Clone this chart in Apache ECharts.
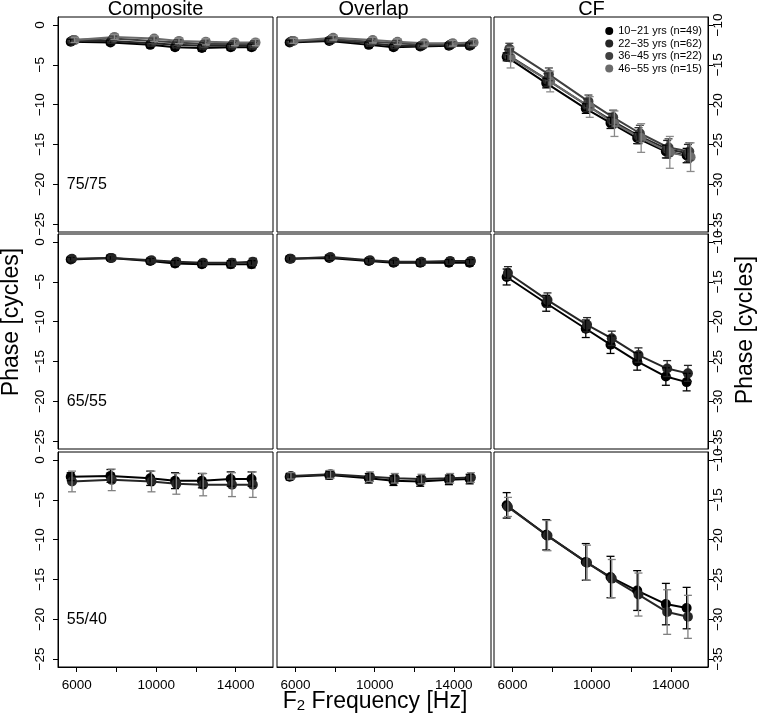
<!DOCTYPE html>
<html>
<head>
<meta charset="utf-8">
<script src="https://cdn.jsdelivr.net/npm/echarts@6/dist/echarts.min.js"></script>
<style>html,body{margin:0;padding:0;background:#fff}#c{width:763px;height:719px}</style>
</head>
<body>
<div id="c"></div>
<script>
// ---------- data ----------
const freqs = [5800, 7800, 9800, 11050, 12400, 13850, 14900];
const groupNames = ['10\u221221 yrs (n=49)', '22\u221235 yrs (n=62)', '36\u221245 yrs (n=22)', '46\u221255 yrs (n=15)'];
const groupOffsets = [-100, -35, 35, 100];
const columnTitles = ['Composite', 'Overlap', 'CF'];
const levelLabels = ['75/75', '65/55', '55/40'];
const xTicks = [6000, 8000, 10000, 12000, 14000];
const xTickLabels = [6000, 10000, 14000];
const yTicksLeft = [0, -5, -10, -15, -20, -25];
const yTicksRight = [-10, -15, -20, -25, -30, -35];

// 75/75
const comp75_g1 = [-2.1, -2.2, -2.5, -2.8, -2.9, -2.8, -2.8];
const comp75_g2 = [-2.0, -2.0, -2.3, -2.5, -2.6, -2.6, -2.6];
const comp75_g3 = [-1.9, -1.7, -2.0, -2.2, -2.4, -2.4, -2.4];
const comp75_g4 = [-1.9, -1.5, -1.7, -2.0, -2.1, -2.2, -2.2];
const comp75_sd = [0.3, 0.3, 0.35, 0.35, 0.4, 0.4, 0.4];
const ov75_g1 = [-2.2, -2.0, -2.5, -2.8, -2.7, -2.6, -2.6];
const ov75_g2 = [-2.1, -1.9, -2.3, -2.6, -2.6, -2.5, -2.5];
const ov75_g3 = [-2.0, -1.8, -2.1, -2.3, -2.5, -2.4, -2.3];
const ov75_g4 = [-2.0, -1.6, -1.9, -2.1, -2.3, -2.3, -2.2];
const ov75_sd = [0.3, 0.3, 0.35, 0.35, 0.35, 0.35, 0.35];
const cf75_g1 = [-14.0, -17.3, -20.5, -22.3, -24.2, -25.9, -26.4];
const cf75_g2 = [-13.8, -16.9, -20.1, -22.0, -23.9, -25.6, -26.1];
const cf75_g3 = [-13.0, -16.2, -19.6, -21.6, -23.6, -25.4, -25.9];
const cf75_g4 = [-14.1, -17.1, -20.3, -22.4, -24.2, -26.0, -26.6];
const cf75_sd1 = [0.5, 0.6, 0.6, 0.7, 0.7, 0.8, 0.9];
const cf75_sd2 = [0.7, 0.8, 0.8, 0.9, 1.0, 1.1, 1.1];
const cf75_sd3 = [0.7, 0.8, 0.8, 0.9, 1.0, 1.1, 1.1];
const cf75_sd4 = [1.3, 1.3, 1.3, 1.6, 1.8, 2.0, 1.8];

// 65/55
const comp65_g1 = [-2.2, -2.0, -2.4, -2.7, -2.8, -2.8, -2.8];
const comp65_g2 = [-2.1, -2.0, -2.3, -2.5, -2.6, -2.6, -2.5];
const comp65_sd = [0.3, 0.3, 0.35, 0.4, 0.4, 0.45, 0.45];
const ov65_g1 = [-2.1, -2.0, -2.4, -2.6, -2.6, -2.6, -2.6];
const ov65_g2 = [-2.1, -1.9, -2.3, -2.5, -2.5, -2.4, -2.4];
const ov65_sd = [0.3, 0.3, 0.35, 0.35, 0.4, 0.4, 0.4];
const cf65_g1 = [-14.4, -17.7, -20.9, -22.9, -25.0, -26.9, -27.6];
const cf65_g2 = [-13.9, -17.3, -20.4, -22.1, -24.2, -25.9, -26.5];
const cf65_sd1 = [1.0, 1.0, 1.1, 1.1, 1.1, 1.1, 1.1];
const cf65_sd2 = [0.8, 0.9, 0.9, 0.9, 0.9, 1.0, 1.0];

// 55/40
const comp55_g1 = [-2.1, -2.0, -2.3, -2.6, -2.6, -2.4, -2.4];
const comp55_g2 = [-2.7, -2.5, -2.7, -3.0, -3.1, -3.1, -3.1];
const comp55_sd1 = [0.5, 0.8, 0.9, 1.0, 0.9, 0.9, 0.9];
const comp55_sd2 = [1.3, 1.35, 1.3, 1.3, 1.4, 1.5, 1.6];
const ov55_g1 = [-2.1, -1.9, -2.3, -2.6, -2.7, -2.5, -2.4];
const ov55_g2 = [-2.0, -1.8, -2.1, -2.3, -2.4, -2.3, -2.2];
const ov55_sd = [0.4, 0.5, 0.6, 0.6, 0.6, 0.6, 0.6];
const cf55_g1 = [-15.7, -19.4, -22.8, -24.7, -26.4, -28.1, -28.6];
const cf55_g2 = [-15.9, -19.5, -22.9, -24.9, -26.9, -29.1, -29.7];
const cf55_sd1 = [1.6, 1.9, 2.3, 2.6, 2.5, 2.6, 2.6];
const cf55_sd2 = [1.2, 1.9, 2.2, 2.4, 2.7, 2.8, 2.7];

// ---------- styling ----------
const FONT = 'Liberation Sans, Arial, Helvetica, sans-serif';
const lineColors = ['#000000', '#262626', '#404040', '#6b6b6b'];
const barColors = ['#000000', '#262626', '#404040', '#8a8a8a'];
const row3BarColors = ['#000000', '#808080'];
const colLeft = [58, 277, 494];
const colWidth = [215, 214, 214];
const rowTop = [17, 234, 452];
const rowHeight = 215;

// panel -> list of [groupIndex, means, sds, barColor]
const panels = [
  [[0, comp75_g1, comp75_sd], [1, comp75_g2, comp75_sd], [2, comp75_g3, comp75_sd], [3, comp75_g4, comp75_sd]],
  [[0, ov75_g1, ov75_sd], [1, ov75_g2, ov75_sd], [2, ov75_g3, ov75_sd], [3, ov75_g4, ov75_sd]],
  [[0, cf75_g1, cf75_sd1], [1, cf75_g2, cf75_sd2], [2, cf75_g3, cf75_sd3], [3, cf75_g4, cf75_sd4]],
  [[0, comp65_g1, comp65_sd], [1, comp65_g2, comp65_sd]],
  [[0, ov65_g1, ov65_sd], [1, ov65_g2, ov65_sd]],
  [[0, cf65_g1, cf65_sd1], [1, cf65_g2, cf65_sd2]],
  [[0, comp55_g1, comp55_sd1, row3BarColors[0]], [1, comp55_g2, comp55_sd2, row3BarColors[1]]],
  [[0, ov55_g1, ov55_sd, row3BarColors[0]], [1, ov55_g2, ov55_sd, row3BarColors[1]]],
  [[0, cf55_g1, cf55_sd1, row3BarColors[0]], [1, cf55_g2, cf55_sd2, row3BarColors[1]]]
];

const minus = v => String(v).replace('-', '\u2212');

const grid = [], xAxis = [], yAxis = [], series = [];
for (let r = 0; r < 3; r++) {
  for (let c = 0; c < 3; c++) {
    const p = r * 3 + c;
    grid.push({left: colLeft[c], top: rowTop[r], width: colWidth[c], height: rowHeight,
      show: true, borderColor: '#000', borderWidth: 1, backgroundColor: 'transparent'});
    const bottom = r === 2;
    xAxis.push({gridIndex: p, type: 'value', min: 5060, max: 15880,
      splitLine: {show: false},
      axisLine: {show: bottom, onZero: false, lineStyle: {color: '#000', width: 1}},
      axisTick: {show: bottom, customValues: xTicks, length: 5, lineStyle: {color: '#000'}},
      axisLabel: {show: bottom, customValues: xTickLabels, margin: 11, fontSize: 13.5, color: '#000',
        fontFamily: FONT, formatter: v => String(v)}
    });
    const right = c === 2;
    yAxis.push({gridIndex: p, type: 'value', min: right ? -36 : -26, max: right ? -9 : 1,
      position: right ? 'right' : 'left', show: c !== 1,
      splitLine: {show: false},
      axisLine: {show: true, onZero: false, lineStyle: {color: '#000', width: 1}},
      axisTick: {show: true, customValues: right ? yTicksRight : yTicksLeft, length: 5, lineStyle: {color: '#000'}},
      axisLabel: {show: true, customValues: right ? yTicksRight : yTicksLeft, rotate: 90,
        margin: right ? 3 : 11, fontSize: 13.5, color: '#000', fontFamily: FONT, formatter: minus}
    });
    panels[p].forEach(spec => {
      const g = spec[0], means = spec[1], sds = spec[2];
      const bc = spec[3] || barColors[g];
      const xs = freqs.map(f => f + groupOffsets[g]);
      series.push({
        type: 'line', name: groupNames[g], xAxisIndex: p, yAxisIndex: p,
        data: means.map((m, i) => [xs[i], m]),
        symbol: 'circle', symbolSize: 10, showSymbol: true,
        lineStyle: {color: lineColors[g], width: 2},
        itemStyle: {color: lineColors[g]},
        emphasis: {disabled: true}, silent: true, z: 2
      });
      series.push({
        type: 'custom', name: 'eb' + p + '_' + g, xAxisIndex: p, yAxisIndex: p,
        data: means.map((m, i) => [xs[i], m - sds[i], m + sds[i]]),
        encode: {x: 0, y: [1, 2]}, silent: true, z: 3,
        renderItem: (params, api) => {
          const x = api.value(0), lo = api.value(1), hi = api.value(2);
          const a = api.coord([x, hi]), b = api.coord([x, lo]);
          const w = 4;
          const st = {stroke: bc, lineWidth: 1.3};
          return {type: 'group', children: [
            {type: 'line', shape: {x1: a[0], y1: a[1], x2: b[0], y2: b[1]}, style: st},
            {type: 'line', shape: {x1: a[0] - w, y1: a[1], x2: a[0] + w, y2: a[1]}, style: st},
            {type: 'line', shape: {x1: b[0] - w, y1: b[1], x2: b[0] + w, y2: b[1]}, style: st}
          ]};
        }
      });
    });
    if (c === 0) {
      series.push({
        type: 'scatter', xAxisIndex: p, yAxisIndex: p, data: [[5500, -20]],
        symbolSize: 0, itemStyle: {color: '#000', opacity: 1}, silent: true,
        label: {show: true, position: 'right', distance: 0, formatter: levelLabels[r],
          fontSize: 16, color: '#000', opacity: 1, fontFamily: FONT}
      });
    }
  }
}

const titleCenters = [155.5, 373.5, 591.5];
const graphic = columnTitles.map((t, i) => ({
  type: 'text', x: titleCenters[i], y: 9,
  style: {text: t, fontSize: 20, fontFamily: FONT, fill: '#000', textAlign: 'center', textVerticalAlign: 'middle'}
}));
graphic.push({type: 'text', x: 12, y: 322, rotation: Math.PI / 2,
  style: {text: 'Phase [cycles]', fontSize: 23, fontFamily: FONT, fill: '#000', textAlign: 'center', textVerticalAlign: 'middle'}});
graphic.push({type: 'text', x: 746, y: 330, rotation: Math.PI / 2,
  style: {text: 'Phase [cycles]', fontSize: 23, fontFamily: FONT, fill: '#000', textAlign: 'center', textVerticalAlign: 'middle'}});
graphic.push({type: 'text', x: 375, y: 700,
  style: {text: '{a|F}{s|2}{a| Frequency [Hz]}', textAlign: 'center', textVerticalAlign: 'middle',
    rich: {a: {fontSize: 23, lineHeight: 26, fontFamily: FONT, fill: '#000', verticalAlign: 'bottom'},
           s: {fontSize: 15, lineHeight: 12, fontFamily: FONT, fill: '#000', verticalAlign: 'bottom'}}}});

const chart = echarts.init(document.getElementById('c'), null, {renderer: 'canvas'});
chart.setOption({
  animation: false,
  backgroundColor: '#fff',
  grid, xAxis, yAxis, series, graphic,
  legend: {
    data: groupNames, orient: 'vertical', right: 61, top: 25, padding: 0,
    icon: 'circle', itemWidth: 8, itemHeight: 8, itemGap: 0.5, align: 'left',
    selectedMode: false,
    textStyle: {fontSize: 11, lineHeight: 12, color: '#000', fontFamily: FONT}
  }
});
</script>
</body>
</html>
